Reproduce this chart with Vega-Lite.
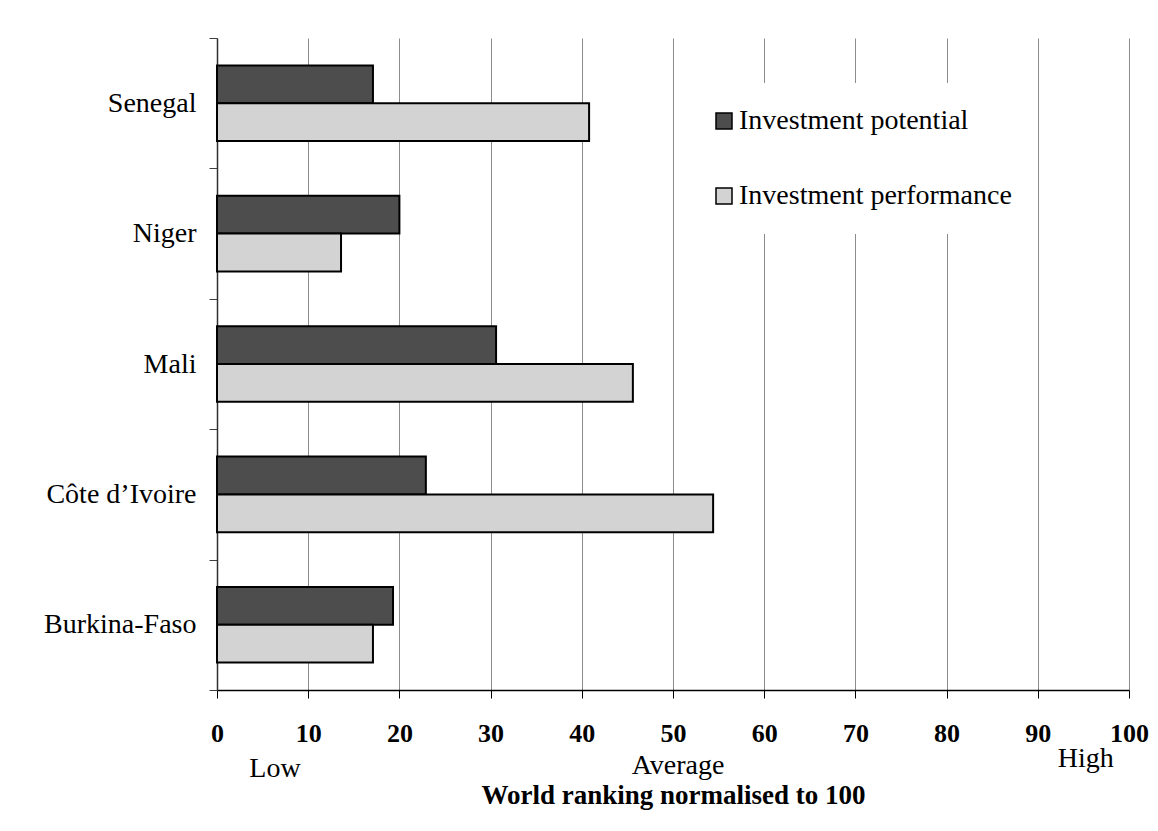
{
  "$schema": "https://vega.github.io/schema/vega-lite/v6.json",
  "width": 912,
  "height": 652,
  "autosize": {"type": "none"},
  "padding": {"left": 217, "top": 38, "right": 29, "bottom": 141},
  "background": "white",
  "config": {"view": {"stroke": null}, "font": "Liberation Serif"},
  "datasets": {
    "bars": [
      {"country": "Senegal", "measure": "Investment potential", "value": 17.1},
      {"country": "Senegal", "measure": "Investment performance", "value": 40.8},
      {"country": "Niger", "measure": "Investment potential", "value": 20.0},
      {"country": "Niger", "measure": "Investment performance", "value": 13.6},
      {"country": "Mali", "measure": "Investment potential", "value": 30.6},
      {"country": "Mali", "measure": "Investment performance", "value": 45.6},
      {"country": "Côte d’Ivoire", "measure": "Investment potential", "value": 22.9},
      {"country": "Côte d’Ivoire", "measure": "Investment performance", "value": 54.4},
      {"country": "Burkina-Faso", "measure": "Investment potential", "value": 19.3},
      {"country": "Burkina-Faso", "measure": "Investment performance", "value": 17.1}
    ],
    "scaleNotes": [
      {"pos": 6.3, "label": "Low"},
      {"pos": 50.5, "label": "Average"},
      {"pos": 95.2, "label": "High"}
    ]
  },
  "layer": [
    {
      "data": {"name": "bars"},
      "mark": {"type": "bar", "stroke": "black", "strokeWidth": 2},
      "encoding": {
        "y": {
          "field": "country",
          "type": "nominal",
          "sort": ["Senegal", "Niger", "Mali", "Côte d’Ivoire", "Burkina-Faso"],
          "scale": {"paddingInner": 0, "paddingOuter": 0},
          "axis": {
            "title": null,
            "tickBand": "extent",
            "labelFont": "Liberation Serif",
            "labelFontSize": 28,
            "labelColor": "black",
            "labelPadding": 13,
            "tickSize": 8,
            "tickColor": "#404040",
            "domainColor": "#303030",
            "domainWidth": 1.5,
            "grid": false
          }
        },
        "yOffset": {
          "field": "measure",
          "type": "nominal",
          "sort": ["Investment potential", "Investment performance"],
          "scale": {"paddingInner": 0, "paddingOuter": 0.725}
        },
        "x": {
          "field": "value",
          "type": "quantitative",
          "scale": {"domain": [0, 100], "nice": false},
          "axis": {
            "title": null,
            "values": [0, 10, 20, 30, 40, 50, 60, 70, 80, 90, 100],
            "grid": true,
            "gridColor": "#8c8c8c",
            "gridWidth": 1,
            "tickSize": 8,
            "tickColor": "black",
            "domainColor": "black",
            "domainWidth": 1.5,
            "labelFont": "Liberation Serif",
            "labelFontWeight": "bold",
            "labelFontSize": 26,
            "labelColor": "black",
            "labelPadding": 22,
            "labelFlush": false,
            "labelOverlap": false
          }
        },
        "fill": {
          "field": "measure",
          "type": "nominal",
          "scale": {
            "domain": ["Investment potential", "Investment performance"],
            "range": ["#4d4d4d", "#d3d3d3"]
          },
          "legend": {
            "orient": "none",
            "legendX": 469,
            "legendY": 45,
            "title": null,
            "fillColor": "white",
            "padding": 24,
            "symbolType": "square",
            "symbolSize": 256,
            "symbolStrokeColor": "black",
            "symbolStrokeWidth": 1.5,
            "symbolOpacity": 1,
            "labelFont": "Liberation Serif",
            "labelFontSize": 28,
            "labelColor": "black",
            "labelOffset": 1,
            "labelLimit": 400,
            "rowPadding": 47
          }
        }
      }
    },
    {
      "data": {"name": "scaleNotes"},
      "mark": {"type": "text", "opacity": 0},
      "encoding": {
        "x": {
          "field": "pos",
          "type": "quantitative",
          "scale": {"domain": [0, 100], "nice": false},
          "axis": {
            "orient": "bottom",
            "values": [6.3, 50.5, 95.2],
            "labelExpr": "datum.value < 20 ? 'Low' : (datum.value < 80 ? 'Average' : 'High')",
            "domain": false,
            "ticks": false,
            "tickSize": 0,
            "grid": false,
            "labelFont": "Liberation Serif",
            "labelFontSize": 28,
            "labelColor": "black",
            "labelPadding": {"condition": [{"test": "datum.value > 80", "value": 54}, {"test": "datum.value > 20", "value": 61}], "value": 64},
            "labelFlush": false,
            "labelOverlap": false,
            "title": "World ranking normalised to 100",
            "titleFont": "Liberation Serif",
            "titleFontSize": 27,
            "titleFontWeight": "bold",
            "titleColor": "black",
            "titlePadding": 0
          }
        },
        "text": {"field": "label"}
      }
    }
  ],
  "resolve": {"scale": {"x": "independent"}, "axis": {"x": "independent"}}
}
